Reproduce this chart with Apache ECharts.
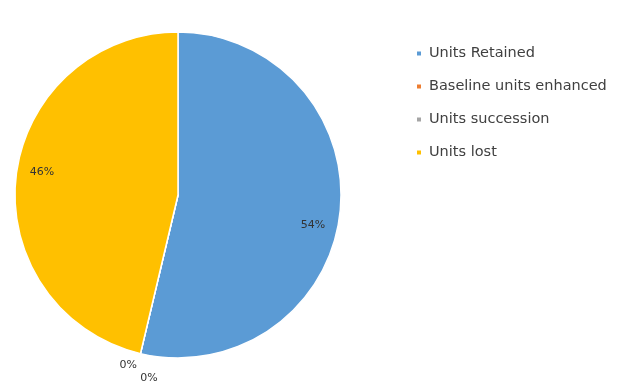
<!DOCTYPE html>
<html><head><meta charset="utf-8">
<script src="https://cdn.jsdelivr.net/npm/echarts@6/dist/echarts.min.js"></script>
<style>html,body{margin:0;padding:0;background:#fff}#c{width:625px;height:385px}</style>
</head><body><div id="c"></div>
<script>
const categories = ['Units Retained', 'Baseline units enhanced', 'Units succession', 'Units lost'];
const values = [53.7, 0, 0, 46.3];
const labels = ['54%', '0%', '0%', '46%'];
const colors = ['#5B9BD5', '#ED7D31', '#A5A5A5', '#FFC000'];
const labelOffsets = [[-5, 14], [19, 12], [15, 4], [4, -7]];

const chart = echarts.init(document.getElementById('c'));
const fullData = categories.map((n, i) => ({name: n, value: values[i], itemStyle: {color: colors[i]}}));
const ringData = categories.map((n, i) => ({
  name: n, value: values[i],
  label: values[i] === 0
    ? {show: true, position: 'outside', distanceToLabelLine: 0, offset: labelOffsets[i]}
    : {show: true, position: 'inside', offset: labelOffsets[i]},
  labelLine: {show: false, length: 8, length2: 0}
}));
chart.setOption({
  backgroundColor: '#fff',
  animation: false,
  color: colors,
  legend: {
    orient: 'vertical', left: 410, top: 41,
    itemWidth: 6, itemHeight: 6, itemGap: 18,
    icon: 'rect',
    textStyle: {fontFamily: '"DejaVu Sans", sans-serif', fontSize: 14.5, color: '#404040', padding: [0, 0, 0, 2]},
    data: categories
  },
  series: [
    {
      type: 'pie', center: [178, 195], radius: [0, 163],
      clockwise: true, startAngle: 90,
      label: {show: false}, labelLine: {show: false},
      itemStyle: {borderColor: '#fff', borderWidth: 1.5},
      emphasis: {disabled: true},
      data: fullData
    },
    {
      type: 'pie', center: [178, 195], radius: [113, 163],
      clockwise: true, startAngle: 90,
      itemStyle: {color: 'rgba(0,0,0,0)'},
      emphasis: {disabled: true},
      silent: true,
      avoidLabelOverlap: true,
      label: {
        fontFamily: '"DejaVu Sans", sans-serif', fontSize: 11, color: '#333333',
        formatter: p => labels[p.dataIndex]
      },
      data: ringData
    }
  ]
});
</script></body></html>
